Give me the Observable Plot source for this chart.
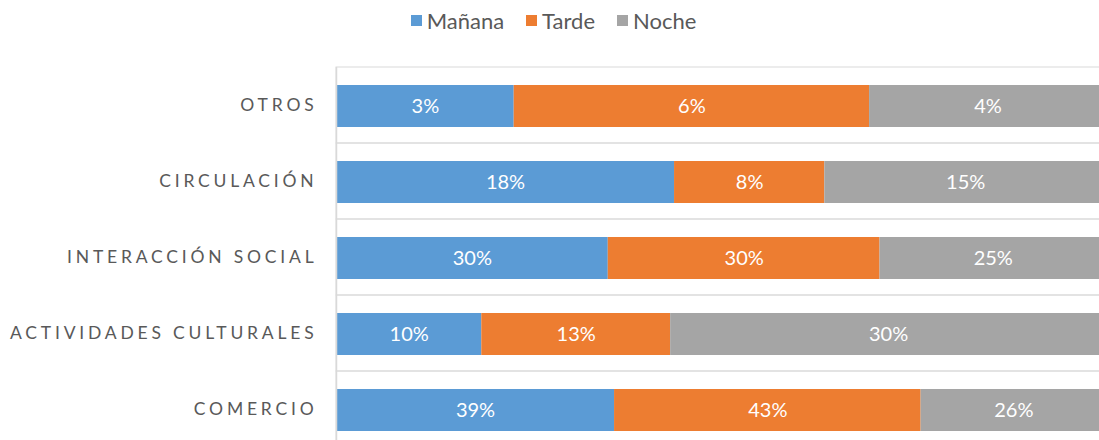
<!DOCTYPE html>
<html>
<head>
<meta charset="utf-8">
<script src="https://cdn.jsdelivr.net/npm/d3@7"></script>
<script src="https://cdn.jsdelivr.net/npm/@observablehq/plot@0.6"></script>
<style>
  html, body { margin: 0; padding: 0; background: #fff; }
  body { width: 1099px; height: 440px; overflow: hidden; font-family: Lato, "Open Sans", sans-serif; }
  #legend { height: 40px; display: flex; justify-content: center; align-items: center; gap: 22px; color: #595959; font-size: 22px; padding-left: 8px; box-sizing: border-box; }
  #legend .item { display: flex; align-items: center; gap: 5px; }
  #legend .sw { width: 11px; height: 11px; display: inline-block; }
  #chart svg [aria-label="y-axis tick label"] text { letter-spacing: 3.8px; }
</style>
</head>
<body>
<div id="legend"></div>
<div id="chart"></div>
<script>
const categories = ["OTROS", "CIRCULACIÓN", "INTERACCIÓN SOCIAL", "ACTIVIDADES CULTURALES", "COMERCIO"];
const series = ["Mañana", "Tarde", "Noche"];
const colors = ["#5b9bd5", "#ed7d31", "#a5a5a5"];
const manana = [3, 18, 30, 10, 39];
const tarde = [6, 8, 30, 13, 43];
const noche = [4, 15, 25, 30, 26];

const values = [manana, tarde, noche];
const data = [];
series.forEach((s, i) => categories.forEach((c, j) => data.push({cat: c, series: s, v: values[i][j]})));

const legend = document.getElementById("legend");
series.forEach((s, i) => {
  const it = document.createElement("span");
  it.className = "item";
  it.innerHTML = `<span class="sw" style="background:${colors[i]}"></span><span>${s}</span>`;
  legend.appendChild(it);
});

const chart = Plot.plot({
  width: 1099,
  height: 400,
  marginLeft: 336,
  marginRight: 0,
  marginTop: 27,
  marginBottom: 0,
  style: {fontFamily: "Lato, 'Open Sans', sans-serif", background: "#fff"},
  x: {domain: [0, 1], range: [336, 1106], axis: null},
  y: {domain: categories, range: [27, 407], padding: 0, label: null, tickSize: 0, tickPadding: 20},
  color: {domain: series, range: colors},
  marks: [
    Plot.barX(categories, {x1: 0, x2: 1, y: d => d, fill: "none", stroke: "#d9d9d9", strokeWidth: 1}),
    Plot.barX(data, Plot.stackX({x: "v", y: "cat", z: "series", fill: "series", offset: "normalize", insetTop: 18, insetBottom: 16})),
    Plot.textX(data, Plot.stackX({x: "v", y: "cat", z: "series", offset: "normalize", text: d => d.v + "%", fill: "white", fontSize: 20, dy: 1})),
    Plot.ruleX([0], {stroke: "#d9d9d9", strokeWidth: 1.5}),
    Plot.axisY({tickSize: 0, tickPadding: 19, fontSize: 17.5, fill: "#595959", label: null})
  ]
});
document.getElementById("chart").appendChild(chart);
</script>
</body>
</html>
